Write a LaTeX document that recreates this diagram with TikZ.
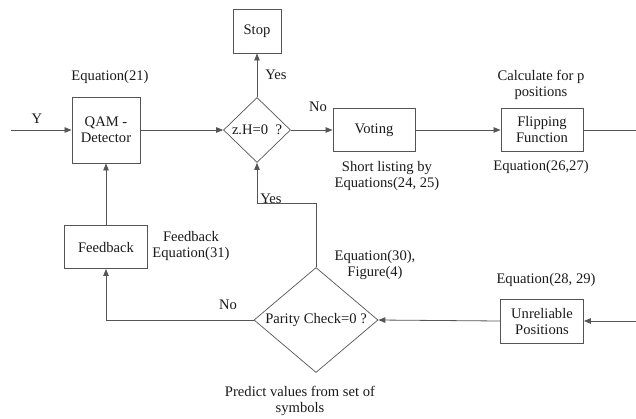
\documentclass[tikz,border=0pt]{standalone}
\usepackage{fontspec}
\setmainfont{Liberation Serif}
\usetikzlibrary{arrows.meta,shapes.geometric}
\definecolor{ln}{HTML}{555555}
\definecolor{tx}{HTML}{1A1A1A}
\begin{document}
\begin{tikzpicture}[x=1pt,y=-1pt,
  every node/.style={font=\fontsize{14.6}{16}\selectfont,text=tx},
  box/.style={draw=ln,line width=0.9pt,inner sep=0pt,align=center},
  dia/.style={draw=ln,line width=0.7pt,shape=diamond,inner sep=0pt},
  lbl/.style={align=center,inner sep=0pt},
  conn/.style={draw=ln,line width=0.8pt},
  arr/.style={conn,-{Triangle[length=7pt,width=5.5pt]}}]
\useasboundingbox (0,0) rectangle (636,418);
% boxes
\node[box,minimum width=68pt,minimum height=66pt] (qam) at (106,130) {QAM -\\Detector};
\node[box,minimum width=48pt,minimum height=44pt] (stop) at (257,31) {Stop};
\node[box,minimum width=82pt,minimum height=43pt] (vote) at (374,130) {Voting};
\node[box,minimum width=82pt,minimum height=43pt] (flip) at (542,130) {Flipping\\Function};
\node[box,minimum width=83pt,minimum height=43pt] (fb) at (106,247) {Feedback};
\node[box,minimum width=83pt,minimum height=44pt] (unr) at (542,321) {Unreliable\\Positions};
% diamonds
\node[dia,minimum width=67pt,minimum height=65pt] (zh) at (257,130) {};
\node[lbl] at (zh.center) {z.H=0\ \ ?};
\node[dia,minimum width=124pt,minimum height=105pt] (pc) at (316,320) {};
\node[lbl] at (pc.center) {Parity Check=0 ?};
% free ends
\coordinate (yin) at (11,130);
\coordinate (fout) at (636,130);
\coordinate (uin) at (636,321);
% labels
\node[lbl] (ly) at (37,119) {Y};
\node[lbl] (l21) at (110,77) {Equation(21)};
\node[lbl] (lyes1) at (276,75) {Yes};
\node[lbl] (lno1) at (318,107) {No};
\node[lbl] (lcalc) at (541,85) {Calculate for p\\positions};
\node[lbl] (lshort) at (387,176) {Short listing by\\Equations(24, 25)};
\node[lbl] (l2627) at (541,167) {Equation(26,27)};
\node[lbl] (lfb) at (191,246) {Feedback\\Equation(31)};
\node[lbl] (lyes2) at (271,199) {Yes};
\node[lbl] (lno2) at (228,305) {No};
\node[lbl] (l30) at (375,265) {Equation(30),\\Figure(4)};
\node[lbl] (l2829) at (546,280) {Equation(28, 29)};
\node[lbl] (lpred) at (300,401) {Predict values from set of\\symbols};
% connectors
\draw[arr] (yin) -- (qam.west);
\draw[arr] (qam.east) -- (zh.west);
\draw[arr] (zh.north) -- (stop.south);
\draw[arr] (zh.east) -- (vote.west);
\draw[arr] (vote.east) -- (flip.west);
\draw[conn] (flip.east) -- (fout);
\draw[arr] (uin) -- (unr.east);
\draw[arr] (unr.west) -- (pc.east);
\draw[arr] (pc.north) |- (257,203) -- (zh.south);
\draw[arr] (pc.west) -| (fb.south);
\draw[arr] (fb.north) -- (qam.south);
\end{tikzpicture}
\end{document}
